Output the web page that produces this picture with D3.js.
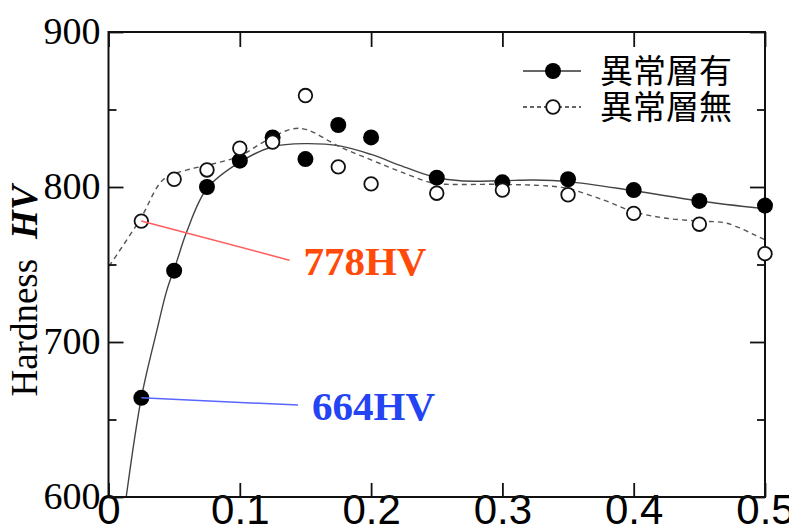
<!DOCTYPE html>
<html>
<head>
<meta charset="utf-8">
<script src="https://cdn.jsdelivr.net/npm/d3@7"></script>
<style>
  body { margin: 0; background: #fff; }
  svg { display: block; }
</style>
</head>
<body>
<div id="chart"></div>
<script>
// measured points (distance vs hardness)
var depth = [0.025, 0.05, 0.075, 0.1, 0.125, 0.15, 0.175, 0.2, 0.25, 0.3, 0.35, 0.4, 0.45, 0.5];
var withLayer = [664, 746, 800, 817, 832, 818, 840, 832, 806, 803, 805, 798, 791, 788];
var withoutLayer = [778, 805, 811, 825, 829, 859, 813, 802, 796, 798, 795, 783, 776, 757];

// fitted curves
var solidFitX = [0.0135, 0.025, 0.037, 0.0443, 0.052, 0.0595, 0.075, 0.1, 0.125, 0.15, 0.176, 0.2, 0.222, 0.247, 0.268, 0.298, 0.324, 0.35, 0.4, 0.45, 0.5];
var solidFitY = [600, 664, 708, 733, 752, 771, 799, 816, 826, 828, 826.5, 821, 814, 806.6, 804, 804, 804.5, 803.5, 797.6, 791, 786];
var dashFitX = [0.0005, 0.024, 0.042, 0.06, 0.08, 0.1, 0.12, 0.14, 0.151, 0.176, 0.2, 0.222, 0.247, 0.26, 0.298, 0.336, 0.35, 0.377, 0.4, 0.425, 0.45, 0.471, 0.496, 0.5];
var dashFitY = [749, 779, 805, 811, 815, 820, 830, 837.5, 837, 826, 817.5, 810, 802.5, 801.7, 801.7, 800.6, 799, 791.6, 784, 779.8, 778, 776.6, 767.5, 766];

var xTicks = [0, 0.1, 0.2, 0.3, 0.4, 0.5];
var xTickLabels = ['0', '0.1', '0.2', '0.3', '0.4', '0.5'];
var yTicks = [600, 700, 800, 900];
var yMinor = [650, 750, 850];
var seriesNames = ['異常層有', '異常層無'];

// annotations: index into depth
var notes = [
	{ 'label': '778HV', 'series': 'without', 'i': 0, 'tx': 0.1485, 'ty': 751.5, 'color': '#ff4a0a', 'line': '#ff5c5c' },
	{ 'label': '664HV', 'series': 'with', 'i': 0, 'tx': 0.155, 'ty': 658, 'color': '#2443f2', 'line': '#5966ff' }
];

var fv = { 'w': 789, 'h': 528, 'left': 108.5, 'right': 765, 'top': 32, 'bottom': 497 };

var svg = d3.select('#chart').append('svg')
	.attr('width', fv.w)
	.attr('height', fv.h);

var x = d3.scaleLinear().domain([0, 0.5]).range([fv.left, fv.right]);
var y = d3.scaleLinear().domain([600, 900]).range([fv.bottom, fv.top]);

//-----------------------------------------------------curves
var line = d3.line()
	.x(function(d) { return x(d[0]); })
	.y(function(d) { return y(d[1]); })
	.curve(d3.curveCatmullRom.alpha(0.5));

svg.append('path')
	.datum(d3.zip(solidFitX, solidFitY))
	.attr('d', line)
	.attr('fill', 'none')
	.attr('stroke', '#444')
	.attr('stroke-width', 1.4);

svg.append('path')
	.datum(d3.zip(dashFitX, dashFitY))
	.attr('d', line)
	.attr('fill', 'none')
	.attr('stroke', '#555')
	.attr('stroke-width', 1.4)
	.attr('stroke-dasharray', '5,4');

//-----------------------------------------------------axes
function styleAxis(g) {
	g.select('.domain').remove();
	g.selectAll('.tick line').attr('stroke', '#111').attr('stroke-width', 1.8);
}

var yAxisG = svg.append('g')
	.attr('transform', 'translate(' + fv.left + ',0)')
	.call(d3.axisLeft(y).tickValues(yTicks).tickSizeInner(-15).tickSizeOuter(0).tickPadding(8))
	.call(styleAxis)
	.attr('font-family', null)
	.attr('font-size', null);
yAxisG.selectAll('text')
	.style('font-family', '"Liberation Serif", "Times New Roman", serif')
	.style('font-size', '38px')
	.attr('fill', '#000')
	.attr('dy', '0.3em');

svg.append('g')
	.attr('transform', 'translate(' + fv.left + ',0)')
	.call(d3.axisLeft(y).tickValues(yMinor).tickSizeInner(-8).tickSizeOuter(0).tickFormat(''))
	.call(styleAxis);

svg.append('g')
	.attr('transform', 'translate(' + fv.right + ',0)')
	.call(d3.axisRight(y).tickValues(yTicks).tickSizeInner(-15).tickSizeOuter(0).tickFormat(''))
	.call(styleAxis);

svg.append('g')
	.attr('transform', 'translate(' + fv.right + ',0)')
	.call(d3.axisRight(y).tickValues(yMinor).tickSizeInner(-8).tickSizeOuter(0).tickFormat(''))
	.call(styleAxis);

svg.append('g')
	.attr('transform', 'translate(0,' + fv.top + ')')
	.call(d3.axisTop(x).tickValues(xTicks).tickSizeInner(-15).tickSizeOuter(0).tickFormat(''))
	.call(styleAxis);

var xAxisG = svg.append('g')
	.attr('transform', 'translate(0,' + fv.bottom + ')')
	.call(d3.axisBottom(x).tickValues(xTicks).tickSizeInner(-14).tickSizeOuter(0)
		.tickPadding(-3)
		.tickFormat(function(d, i) { return xTickLabels[i]; }))
	.call(styleAxis)
	.attr('font-family', null)
	.attr('font-size', null);
xAxisG.selectAll('text')
	.style('font-family', '"Liberation Sans", Arial, sans-serif')
	.style('font-size', '42px')
	.attr('fill', '#000');

// frame
svg.append('rect')
	.attr('x', fv.left)
	.attr('y', fv.top)
	.attr('width', fv.right - fv.left)
	.attr('height', fv.bottom - fv.top)
	.attr('fill', 'none')
	.attr('stroke', '#111')
	.attr('stroke-width', 2);

// y title
var title = svg.append('text')
	.attr('transform', 'translate(37,291) rotate(-90)')
	.attr('text-anchor', 'middle')
	.attr('font-family', 'Liberation Serif')
	.attr('font-size', 37)
	.attr('fill', '#000');
title.append('tspan').text('Hardness');
title.append('tspan').attr('dx', 20).attr('font-weight', 'bold').attr('font-style', 'italic').text('HV');

//-----------------------------------------------------points
svg.append('g').selectAll('circle')
	.data(d3.zip(depth, withLayer))
	.enter().append('circle')
	.attr('cx', function(d) { return x(d[0]); })
	.attr('cy', function(d) { return y(d[1]); })
	.attr('r', 8)
	.attr('fill', '#000');

svg.append('g').selectAll('circle')
	.data(d3.zip(depth, withoutLayer))
	.enter().append('circle')
	.attr('cx', function(d) { return x(d[0]); })
	.attr('cy', function(d) { return y(d[1]); })
	.attr('r', 6.8)
	.attr('fill', '#fff')
	.attr('stroke', '#111')
	.attr('stroke-width', 1.8);

//-----------------------------------------------------annotations
notes.forEach(function(n) {
	var vals = n.series === 'with' ? withLayer : withoutLayer;
	var px = x(depth[n.i]), py = y(vals[n.i]);
	var ex = x(n.tx) - 14, ey = y(n.ty) - 2;
	svg.append('line')
		.attr('x1', px).attr('y1', py)
		.attr('x2', ex).attr('y2', ey)
		.attr('stroke', n.line)
		.attr('stroke-width', 1.5);
	svg.append('text')
		.attr('x', x(n.tx))
		.attr('y', y(n.ty) + 13)
		.attr('font-family', 'Liberation Serif')
		.attr('font-weight', 'bold')
		.attr('font-size', 41)
		.attr('fill', n.color)
		.text(n.label);
});

//-----------------------------------------------------legend
var legend = svg.append('g').attr('transform', 'translate(523,71)');
seriesNames.forEach(function(name, i) {
	var row = legend.append('g').attr('transform', 'translate(0,' + (i * 36) + ')');
	row.append('line')
		.attr('x1', 0).attr('x2', 58)
		.attr('stroke', '#333')
		.attr('stroke-width', 1.4)
		.attr('stroke-dasharray', i === 1 ? '4,3' : null);
	row.append('circle')
		.attr('cx', 30)
		.attr('r', i === 0 ? 8 : 6.8)
		.attr('fill', i === 0 ? '#000' : '#fff')
		.attr('stroke', i === 0 ? 'none' : '#111')
		.attr('stroke-width', 1.8);
	row.append('text')
		.attr('x', 77)
		.attr('y', 12)
		.attr('font-family', 'Noto Sans CJK JP')
		.attr('font-size', 33)
		.attr('fill', '#000')
		.text(name);
});
</script>
</body>
</html>
